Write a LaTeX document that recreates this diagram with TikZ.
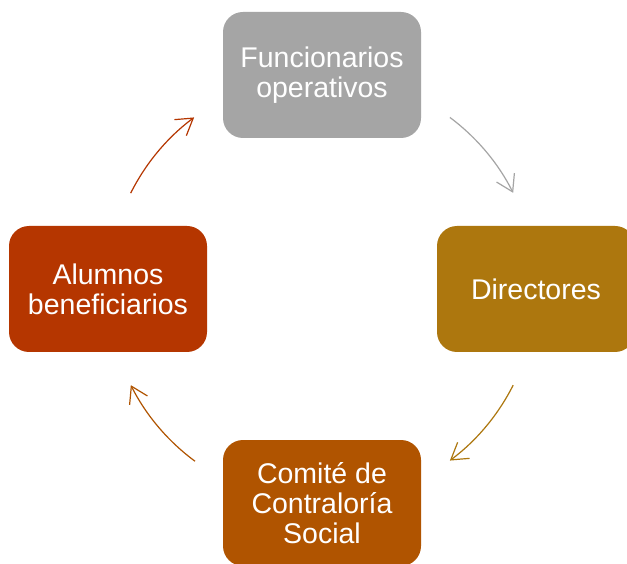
\documentclass[tikz,border=0pt]{standalone}
\usepackage{fontspec}
\setmainfont{Liberation Sans}
\usetikzlibrary{arrows.meta}
\definecolor{gris}{HTML}{A5A5A5}
\definecolor{dorado}{HTML}{AD770E}
\definecolor{naranja}{HTML}{B05400}
\definecolor{rojizo}{HTML}{B53600}
\tikzset{
caja/.style={rectangle, rounded corners=20pt, minimum width=198pt, minimum height=126pt,
  text=white, align=center, inner sep=2pt, font=\fontsize{28.5}{29.8}\selectfont},
flecha/.style={line width=1.2pt, -{Straight Barb[length=16pt,width=20pt,line width=1.2pt]}}}

\begin{document}
\begin{tikzpicture}[x=1pt,y=1pt]
        \clip (0,0) rectangle (627,563);
        \fill[white] (0,0) rectangle (627,563);

                    \coordinate (C) at (322,274);
                    \node[caja, fill=gris] (F) at (322,488) {Funcionarios\\operativos};
                    \node[caja, fill=dorado] (D) at (536,274) {Directores};
                    \node[caja, fill=naranja] (S) at (322,60) {Comité de\\Contraloría\\Social};
                    \node[caja, fill=rojizo] (A) at (108,274) {Alumnos\\beneficiarios};

                    \draw[flecha, gris] ([shift={(53.3:214pt)}]C) arc[start angle=53.3, end angle=26.7, radius=214pt];
                    \draw[flecha, dorado] ([shift={(-26.7:214pt)}]C) arc[start angle=-26.7, end angle=-53.3, radius=214pt];
                    \draw[flecha, naranja] ([shift={(-126.4:214pt)}]C) arc[start angle=-126.4, end angle=-153.3, radius=214pt];
                    \draw[flecha, rojizo] ([shift={(153.4:214pt)}]C) arc[start angle=153.4, end angle=126.7, radius=214pt];

                \end{tikzpicture}
\end{document}
